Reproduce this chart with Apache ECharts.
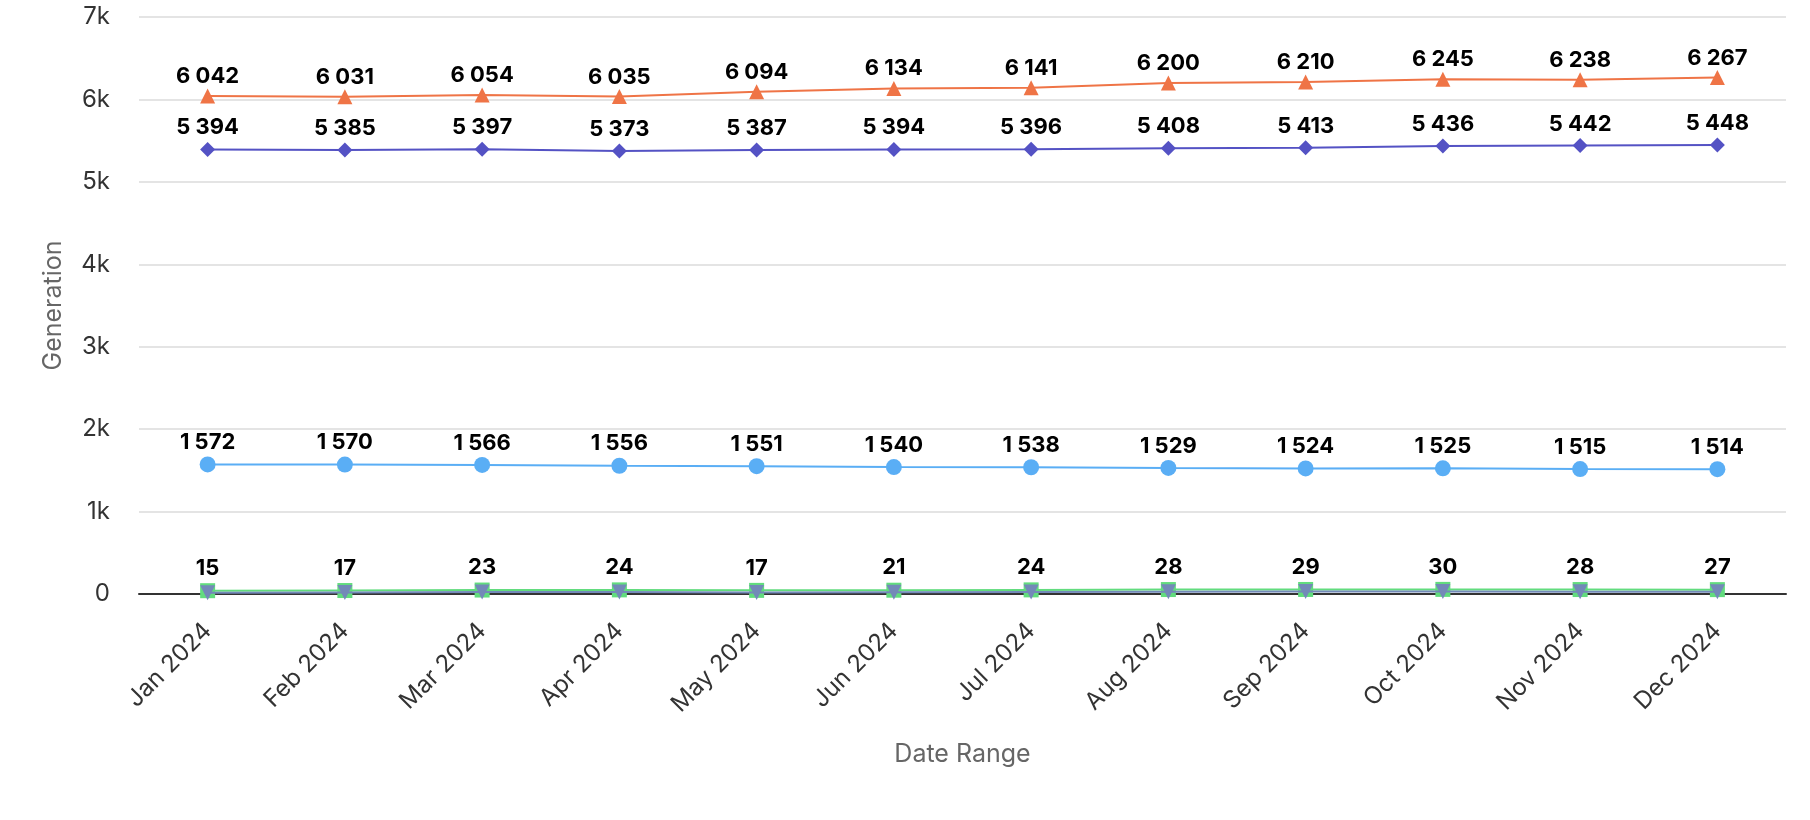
<!DOCTYPE html>
<html>
<head>
<meta charset="utf-8">
<script src="https://cdn.jsdelivr.net/npm/echarts@6/dist/echarts.min.js"></script>
<style>
html,body{margin:0;padding:0;background:#fff;}
#chart{width:1810px;height:820px;}
</style>
</head>
<body>
<div id="chart"></div>
<script>
const categories = ['Jan 2024','Feb 2024','Mar 2024','Apr 2024','May 2024','Jun 2024','Jul 2024','Aug 2024','Sep 2024','Oct 2024','Nov 2024','Dec 2024'];
const orangeSeries = [6042,6031,6054,6035,6094,6134,6141,6200,6210,6245,6238,6267];
const purpleSeries = [5394,5385,5397,5373,5387,5394,5396,5408,5413,5436,5442,5448];
const blueSeries = [1572,1570,1566,1556,1551,1540,1538,1529,1524,1525,1515,1514];
const greenSeries = [40,42,48,50,44,46,50,54,55,56,54,53];
const slateSeries = [15,17,23,24,17,21,24,28,29,30,28,27];
const yTicks = ['0','1k','2k','3k','4k','5k','6k','7k'];

const fmt = v => String(Math.round(v)).replace(/\B(?=(\d{3})+(?!\d))/g, ' ');
const FONT = 'Inter';

function mkSeries(name, data, color, symbol, size, showLabel, z, rot, dist) {
  return {
    name: name, type: 'line', data: data, symbol: symbol, symbolSize: size,
    symbolRotate: rot || 0,
    z: z,
    lineStyle: {color: color, width: 2},
    itemStyle: {color: color},
    label: {show: showLabel, position: 'top', distance: dist, color: '#000', fontWeight: 'bold', fontSize: 22, fontFamily: FONT, formatter: p => fmt(p.value)},
    emphasis: {disabled: true},
    animation: false
  };
}

const chart = echarts.init(document.getElementById('chart'), null, {renderer: 'canvas'});
chart.setOption({
  backgroundColor: '#fff',
  animation: false,
  grid: {left: 139, right: 24, top: 17, bottom: 226, containLabel: false},
  xAxis: {
    type: 'category', data: categories, boundaryGap: true,
    name: 'Date Range', nameLocation: 'middle', nameGap: 148,
    nameTextStyle: {color: '#666', fontSize: 25, fontFamily: FONT},
    axisLine: {show: true, onZero: true, lineStyle: {color: '#333', width: 2}},
    axisTick: {show: false},
    axisLabel: {rotate: 45, margin: 33, color: '#333', fontSize: 24, fontFamily: FONT},
    splitLine: {show: false}
  },
  yAxis: {
    type: 'value', min: 0, max: 7000, interval: 1000,
    name: 'Generation', nameLocation: 'middle', nameGap: 73,
    nameTextStyle: {color: '#666', fontSize: 25, fontFamily: FONT},
    axisLine: {show: false}, axisTick: {show: false},
    axisLabel: {margin: 29, color: '#333', fontSize: 24, fontFamily: FONT, formatter: (v, i) => yTicks[i]},
    splitLine: {lineStyle: {color: '#e4e4e4', width: 2}}
  },
  series: [
    mkSeries('Green', greenSeries, '#62DC7E', 'rect', 15, false, 2, 0, 3),
    mkSeries('Slate', slateSeries, '#7389B8', 'triangle', 15, true, 3, 180, 6),
    mkSeries('Blue', blueSeries, '#5AAEF5', 'circle', 16, true, 4, 0, 3),
    mkSeries('Purple', purpleSeries, '#5452C4', 'diamond', 15, true, 5, 0, 3),
    mkSeries('Orange', orangeSeries, '#EF7446', 'triangle', 15, true, 6, 0, 1)
  ]
});
</script>
</body>
</html>
